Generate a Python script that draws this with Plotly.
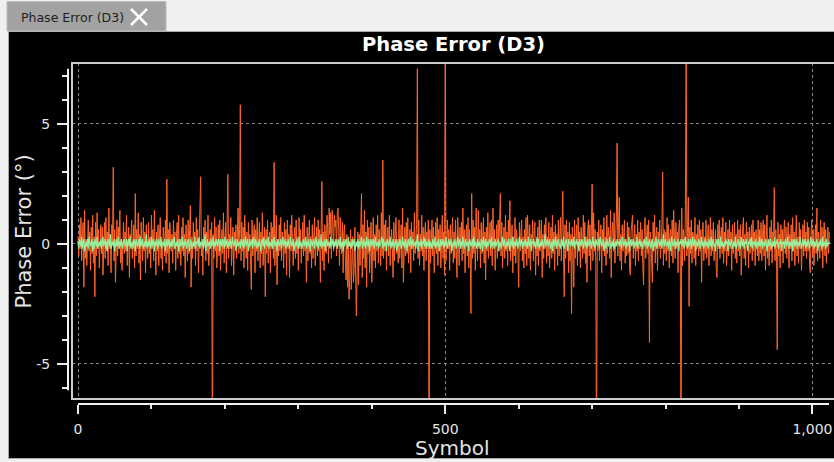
import plotly.graph_objects as go

W, H = 834, 462

# ---------------- data ----------------
symbols = list(range(1024))

phase_error_d3 = [
    0.3,-0.5,0.8,-0.2,1.1,-0.7,0.4,0.9,-1.8,1.4,-0.6,0.2,-0.9,0.6,1.0,-0.3,0.5,-1.1,0.7,-0.4,1.2,-0.8,0.3,-2.2,0.9,-0.5,1.3,-0.2,0.6,-1.0,0.4,0.8,
    -0.4,0.7,-1.3,0.2,0.9,-0.6,1.1,-0.3,0.5,-0.9,1.5,-0.2,0.4,-1.2,0.8,0.1,3.2,-0.7,0.6,-1.6,0.3,1.0,-0.5,0.7,-0.2,1.4,-0.8,0.2,-1.1,0.6,0.9,-0.4,
    0.5,-0.3,1.2,-0.9,0.2,0.7,-1.4,0.4,-0.1,1.0,-0.6,0.3,0.8,-1.0,2.1,-0.5,0.6,-0.2,1.3,-0.8,0.4,-1.5,0.9,0.1,-0.7,1.1,-0.3,0.5,-1.2,0.8,0.2,-0.6,
    0.9,-0.4,0.3,-1.0,1.2,-0.2,0.6,-0.7,1.4,0.2,-1.3,0.5,-0.3,0.8,-0.9,0.4,1.1,-0.6,0.2,-1.1,0.7,0.3,-0.5,1.0,-0.8,2.7,-0.4,0.6,-1.2,0.9,0.1,-0.3,
    0.4,-0.8,1.0,-0.2,0.5,-1.1,0.3,0.9,-0.6,1.2,-0.4,0.2,-0.9,0.7,-0.3,1.1,-0.5,0.4,-1.4,0.8,0.2,-0.7,1.0,-0.4,0.6,1.6,-1.8,0.3,-0.6,0.9,-0.2,0.5,
    -0.9,1.1,-0.3,0.6,-1.2,0.4,0.8,2.8,-0.5,0.2,-1.3,0.7,-0.1,1.0,-0.7,0.5,-0.4,1.2,-0.9,0.3,0.6,-0.2,0.9,-9.5,0.4,-0.6,1.1,-0.3,0.7,-1.0,0.2,0.8,
    -0.5,1.0,-1.1,0.3,0.6,-0.4,1.3,-0.8,0.2,0.9,-1.2,0.5,2.9,-0.6,0.4,-0.2,1.1,-0.9,0.3,0.7,-1.3,0.5,-0.1,0.8,-0.6,1.0,1.5,-0.4,0.6,5.8,-0.7,0.9,
    -0.3,0.7,-1.0,1.2,0.2,-0.6,0.5,-1.1,0.9,-0.2,0.4,-0.8,-1.9,1.0,-0.5,0.3,0.8,-1.2,0.6,-0.3,1.1,-0.7,0.2,0.9,-1.0,0.5,-0.4,1.3,-0.9,0.4,0.7,-2.2,
    0.6,-0.4,1.0,-0.8,0.3,0.5,-1.2,0.9,-0.2,0.7,-0.6,3.4,-0.9,0.4,1.2,-1.7,0.2,-0.5,0.8,-0.3,1.1,-0.7,0.5,0.2,-1.0,0.9,-0.4,0.6,-1.3,1.0,-0.2,0.4,
    -1.4,0.8,-0.3,1.2,0.5,-0.9,0.2,0.7,-0.6,1.0,-0.4,0.3,-1.1,1.1,-0.2,0.6,-0.8,0.4,0.9,-0.5,1.2,-0.3,0.2,-1.6,0.7,-0.7,0.5,1.0,-0.4,0.3,-1.0,0.8,
    -0.6,0.4,1.1,-0.9,0.2,0.7,-0.5,1.0,-0.3,0.6,-1.6,0.9,2.6,-0.7,0.5,-1.1,0.8,0.3,-0.4,1.2,0.6,-0.8,1.5,0.4,1.3,-0.6,1.4,0.9,-0.3,1.2,0.7,1.0,
    -0.5,1.3,1.5,0.6,-0.9,1.1,0.3,-0.4,0.9,-1.2,0.5,0.8,-0.7,-1.5,0.4,-1.8,0.2,-2.3,-1.4,0.6,-1.9,-0.8,0.3,-1.6,-1.1,0.7,-2.0,-3.0,-1.3,0.5,-1.7,0.4,
    -0.9,1.2,2.1,-1.4,0.8,-0.6,1.4,-1.0,0.5,-1.8,1.0,-0.4,0.7,-1.2,0.3,0.9,-1.6,0.5,1.1,-0.7,0.4,-1.0,0.8,-0.3,1.2,-0.8,0.6,0.2,-0.9,1.3,-0.5,3.5,
    -0.6,0.8,-0.3,1.0,-1.1,0.4,0.7,-0.5,1.2,-0.9,0.3,0.6,-0.2,-1.4,0.9,-0.7,0.5,1.1,-0.4,0.2,-0.8,1.0,-0.6,0.4,0.8,-1.0,1.5,-1.6,0.3,0.7,-0.5,0.9,
    -0.4,1.1,-0.8,0.3,0.6,-1.2,0.9,-0.2,0.5,-0.7,1.3,-0.4,0.2,0.8,7.3,-0.6,1.0,-0.9,0.4,-0.3,1.2,-0.5,0.7,-1.1,0.3,0.9,-0.7,0.5,-0.2,1.0,-9.5,0.6,
    -0.8,0.4,1.0,-0.5,0.7,-1.2,0.2,0.9,-0.4,1.1,-0.9,0.6,-0.3,0.8,-1.0,0.3,1.2,-0.6,0.5,-1.3,9.5,-0.7,0.4,1.0,-0.2,0.6,-1.1,0.8,-0.4,0.3,1.1,-0.8,
    0.5,-0.6,1.0,-0.3,-1.4,1.1,0.4,-0.9,0.7,-0.2,0.9,-0.7,1.5,-0.4,0.6,-1.2,0.3,0.8,-0.5,1.1,-1.0,0.6,-0.3,-2.9,2.1,-0.6,1.0,-0.4,0.7,-1.1,1.5,0.4,
    -0.7,1.4,-0.2,0.6,-1.0,0.9,-0.4,0.3,1.1,-0.8,0.5,-1.5,0.7,-0.3,1.3,-0.6,0.2,0.9,-0.5,1.0,-0.9,1.5,-0.2,0.6,-1.1,0.4,0.8,-0.6,1.0,-0.3,0.5,2.1,
    -0.5,0.9,-1.0,0.4,0.7,-0.6,1.2,-0.3,0.5,-0.9,1.0,-0.2,1.8,-0.7,0.4,0.8,-1.2,0.3,-0.5,1.1,-0.8,0.6,0.2,-0.4,-1.8,0.9,-0.3,0.5,1.0,-0.7,0.3,-1.0,
    0.6,-0.4,1.1,-0.9,1.2,0.3,-0.6,0.8,-1.1,0.4,-0.2,1.0,-0.7,0.5,0.9,-1.3,0.2,-0.5,0.7,-0.9,1.0,-0.3,0.6,1.0,-1.4,0.4,-0.6,0.8,-0.2,1.1,-0.8,0.3,
    -0.5,0.9,-1.0,0.3,0.7,-0.6,1.2,-0.4,0.5,-1.1,0.8,-0.2,0.4,-0.9,1.0,-0.5,0.6,1.1,-0.7,0.3,2.2,-0.4,-2.2,0.8,-0.6,1.0,-0.3,0.5,-1.2,0.9,-0.7,0.4,
    -2.9,0.7,-0.4,-1.8,1.0,-0.6,0.3,0.8,-0.9,1.1,-0.3,0.5,-1.0,0.7,0.2,-0.6,1.2,-0.4,0.9,-0.8,0.3,-1.6,0.6,1.0,-0.5,0.8,-1.1,0.4,2.5,-0.7,1.3,-0.3,
    0.6,-0.8,-9.5,0.5,-0.3,1.0,-0.7,0.4,0.8,-1.2,0.6,-0.2,1.1,-0.5,0.3,-0.9,1.2,-0.4,0.7,0.3,-0.6,1.4,-1.4,0.5,0.9,-0.3,1.3,-0.8,0.6,1.1,4.2,-0.5,
    0.9,1.95,-0.7,0.4,-1.1,0.8,-0.3,0.6,1.0,-0.8,0.2,-0.5,0.9,-0.4,0.7,-1.0,-1.3,0.5,1.0,1.2,-0.6,0.3,0.8,-0.9,0.4,-0.3,1.0,-0.7,0.5,-0.2,0.9,-0.5,
    0.6,-0.9,-1.7,0.4,1.1,-0.6,0.3,0.8,-0.4,1.0,-4.1,0.5,0.2,-0.7,-1.6,0.9,-0.3,1.2,-0.8,0.4,0.7,-1.1,0.5,-0.2,1.0,-0.6,0.3,0.8,3.0,-0.9,0.6,-0.4,
    0.5,-0.7,1.1,-0.3,0.8,-1.0,0.4,0.6,-0.5,1.0,-0.8,1.4,0.3,-0.6,0.9,-0.2,0.5,-1.2,0.7,1.0,-0.4,-9.5,1.5,-0.9,0.6,0.3,-0.7,1.6,9.5,-0.5,0.8,1.95,
    -2.6,0.7,-0.4,1.0,-0.8,0.5,0.3,-0.6,1.1,-0.9,0.4,-0.2,0.8,-0.5,1.0,-0.3,0.6,-1.6,0.4,0.9,-0.7,0.3,-0.4,1.0,-0.6,0.5,0.8,-0.9,0.2,1.1,-0.5,0.6,
    -0.3,0.9,-0.7,0.4,0.6,-1.0,-1.4,0.8,-0.2,1.0,-0.6,0.3,0.7,-0.4,1.1,-0.8,0.5,-0.3,0.9,-0.9,0.4,0.6,-0.5,1.0,-0.2,0.5,-1.1,0.8,-0.4,0.3,0.9,-0.6,
    0.4,-0.8,1.0,-0.3,0.6,-0.5,0.8,-1.3,0.2,0.7,1.1,-0.6,0.4,-0.9,0.9,-0.2,0.5,-1.0,0.7,-0.4,0.3,0.8,-0.7,1.0,-0.3,0.5,-0.9,0.6,0.2,-0.5,1.0,-0.7,
    0.6,-0.4,0.9,-0.7,0.3,1.0,-0.5,0.8,-1.1,0.4,1.2,-0.6,0.2,-0.9,0.7,-0.3,1.0,-0.8,0.5,0.3,2.35,-0.7,0.6,-0.2,-4.4,0.9,-0.5,0.4,-1.0,0.8,-0.3,0.6,
    -0.8,0.5,1.0,-0.4,0.7,-0.6,0.3,0.9,-1.0,0.4,-0.2,0.8,-0.7,1.1,-0.3,0.5,-0.9,0.6,1.2,-0.5,0.3,-0.8,0.9,-0.2,0.6,-1.1,0.4,0.8,-0.5,1.0,-0.3,0.5,
    -0.6,0.9,-0.3,0.7,-0.8,-1.2,0.4,1.0,-0.5,0.6,-0.9,0.3,0.8,-0.4,1.5,-0.7,0.5,0.2,-0.6,1.0,-0.3,0.7,-1.0,0.4,0.9,-0.5,0.6,-0.8,0.3,0.7,-0.4,0.5,
]

phase_error_avg = [
    0.1,-0.2,0.2,0.0,-0.1,0.3,-0.2,0.1,0.2,-0.3,0.0,0.1,-0.1,0.2,-0.2,0.3,0.1,-0.1,0.0,0.2,-0.3,0.1,-0.2,0.2,0.1,-0.1,0.3,-0.2,0.0,0.1,-0.1,0.2,
    -0.2,0.1,0.3,-0.1,0.0,0.2,-0.2,0.1,-0.3,0.2,0.1,-0.1,0.4,-0.2,0.0,0.1,-0.1,0.2,-0.3,0.1,0.2,-0.1,0.0,0.3,-0.2,0.1,-0.1,0.2,0.0,-0.2,0.1,0.2,
    0.0,-0.1,0.2,-0.3,0.1,0.2,-0.1,0.3,-0.2,0.0,0.1,-0.2,0.2,0.1,-0.3,0.2,0.1,-0.1,0.0,0.2,-0.2,0.3,-0.1,0.1,0.2,-0.2,0.0,0.1,-0.1,0.4,-0.2,0.1,
    -0.1,0.2,0.0,-0.2,0.3,-0.1,0.1,0.2,-0.3,0.1,-0.1,0.2,0.0,-0.2,0.2,0.1,-0.1,0.3,-0.2,0.0,0.1,-0.1,0.2,-0.3,0.1,0.2,-0.1,0.0,0.2,-0.2,0.1,-0.1,
    0.2,-0.1,0.1,0.3,-0.2,0.0,0.1,-0.1,0.2,-0.3,0.1,0.2,-0.1,0.0,0.3,-0.2,0.1,-0.1,0.2,0.0,-0.2,0.1,0.2,-0.1,-0.3,0.2,0.1,-0.2,0.0,0.1,-0.1,0.3,
    -0.2,0.1,0.0,0.2,-0.1,0.3,-0.2,0.1,0.0,-0.1,0.2,-0.2,0.1,0.4,-0.3,0.1,0.2,-0.1,0.0,0.1,-0.2,0.2,-0.1,0.0,0.3,-0.2,0.1,-0.1,0.2,0.0,-0.1,0.2,
    0.1,-0.3,0.2,0.0,-0.1,0.2,0.1,-0.2,0.3,-0.1,0.0,0.2,-0.2,0.1,-0.1,0.2,0.0,-0.2,0.3,0.1,-0.1,0.0,0.2,-0.3,0.1,0.2,-0.1,0.0,0.1,-0.2,0.2,0.1,
    -0.1,0.2,-0.2,0.1,0.3,-0.1,0.0,0.2,-0.3,0.1,0.2,-0.1,0.0,0.2,-0.2,0.3,0.1,-0.1,0.2,0.0,-0.2,0.1,-0.1,0.2,0.0,-0.3,0.1,0.2,-0.1,0.3,-0.2,0.0,
    0.2,0.0,-0.1,0.3,-0.2,0.1,0.0,-0.1,0.2,-0.2,0.1,0.3,-0.1,0.0,0.1,-0.3,0.2,0.1,-0.1,0.0,0.2,-0.2,0.1,0.3,-0.1,0.0,0.2,-0.2,0.1,-0.1,0.2,0.0,
    -0.2,0.3,0.1,-0.1,0.0,0.2,-0.3,0.1,0.1,-0.1,0.2,0.0,-0.2,0.3,-0.1,0.1,0.0,-0.2,0.1,0.2,-0.1,0.0,0.3,-0.2,0.1,-0.1,0.2,0.0,-0.3,0.2,0.1,-0.1,
    0.1,0.2,-0.2,0.0,0.3,-0.1,0.1,-0.2,0.2,0.0,-0.1,0.4,-0.2,0.1,0.0,-0.1,0.2,-0.3,0.1,0.2,-0.1,0.0,0.1,-0.2,0.3,-0.1,0.0,0.2,-0.2,0.1,-0.1,0.2,
    0.0,-0.2,0.2,0.1,-0.1,0.3,-0.2,0.0,0.1,-0.3,0.2,-0.1,0.1,0.2,0.0,-0.2,0.3,-0.1,0.1,0.0,-0.2,0.2,-0.1,0.1,0.2,-0.3,0.0,0.1,-0.1,0.2,-0.2,0.1,
    -0.1,0.1,0.3,-0.2,0.0,0.2,-0.1,0.1,-0.2,0.3,0.0,-0.1,0.2,-0.3,0.1,0.2,-0.1,0.0,0.2,-0.2,0.1,0.3,-0.1,0.0,0.1,-0.2,0.2,-0.1,0.0,0.1,0.3,-0.2,
    0.2,-0.1,0.0,0.1,-0.3,0.2,0.1,-0.1,0.0,0.3,-0.2,0.1,-0.1,0.2,0.0,-0.2,0.1,0.2,-0.3,0.0,0.1,-0.1,0.2,0.1,-0.2,0.0,0.3,-0.1,0.1,-0.2,0.2,0.0,
    -0.3,0.1,0.2,-0.1,0.0,0.3,-0.2,0.1,0.2,-0.1,0.0,0.1,-0.2,0.2,0.4,-0.3,0.1,0.0,-0.1,0.2,-0.2,0.1,0.0,0.3,-0.1,0.2,-0.2,0.1,0.0,-0.1,0.2,-0.2,
    0.1,0.0,-0.2,0.2,0.1,-0.1,0.3,-0.2,0.0,0.1,-0.1,0.2,-0.3,0.1,0.2,-0.1,0.0,0.2,-0.2,0.1,-0.1,0.3,0.0,-0.2,0.1,0.2,-0.1,0.0,0.2,-0.3,0.1,0.1,
    -0.1,0.2,0.0,-0.2,0.1,0.3,-0.1,0.0,0.2,-0.2,0.1,-0.1,0.3,0.0,-0.2,0.1,0.2,-0.1,0.0,0.1,-0.3,0.2,0.1,-0.1,0.0,0.2,-0.2,0.3,-0.1,0.1,0.0,-0.2,
    0.2,-0.1,0.1,0.0,-0.2,0.2,0.1,-0.3,0.3,0.0,-0.1,0.2,-0.2,0.1,-0.1,0.0,0.2,0.1,-0.2,0.3,-0.1,0.0,0.1,-0.2,0.2,-0.1,0.0,0.1,0.2,-0.3,0.1,0.0,
    -0.2,0.1,0.3,-0.1,0.0,0.2,-0.2,0.1,0.1,-0.1,0.2,0.0,-0.3,0.2,0.1,-0.1,0.3,-0.2,0.0,0.1,-0.1,0.2,0.0,-0.2,0.1,0.3,-0.1,0.0,0.2,-0.2,0.1,-0.1,
    0.0,0.2,-0.1,0.1,-0.2,0.3,0.0,-0.1,0.2,-0.3,0.1,0.0,0.2,-0.1,0.1,-0.2,0.0,0.3,-0.1,0.2,-0.2,0.0,0.1,-0.1,0.2,0.0,-0.2,0.1,0.4,-0.1,0.0,0.2,
    -0.1,0.1,0.2,-0.2,0.0,0.1,-0.3,0.2,0.1,-0.1,0.3,0.0,-0.2,0.1,0.2,-0.1,0.0,-0.2,0.2,0.1,-0.1,0.3,-0.2,0.0,0.1,0.2,-0.1,-0.3,0.2,0.0,0.1,-0.1,
    0.2,0.0,-0.1,0.3,-0.2,0.1,0.0,0.2,-0.1,0.1,-0.3,0.2,0.0,-0.1,0.2,0.1,-0.2,0.0,0.3,-0.1,0.1,-0.2,0.2,0.0,-0.1,0.2,0.1,-0.2,0.0,0.3,-0.1,0.1,
    -0.2,0.2,0.1,-0.1,0.0,0.2,-0.2,0.3,0.1,-0.1,0.0,0.2,-0.3,0.1,0.1,-0.2,0.2,0.0,-0.1,0.1,0.3,-0.2,0.0,0.1,-0.1,0.2,-0.2,0.0,0.1,-0.1,0.2,0.0,
    0.1,-0.1,0.2,0.0,-0.2,0.3,0.1,-0.1,0.0,0.2,-0.2,0.1,-0.1,0.0,0.3,-0.3,0.1,0.2,-0.1,0.0,0.2,-0.2,0.1,0.0,-0.1,0.3,-0.2,0.1,0.0,0.2,-0.1,0.1,
    0.0,-0.2,0.1,0.2,-0.1,0.0,0.3,-0.2,0.1,-0.1,0.2,0.0,-0.2,0.1,0.2,-0.3,0.0,0.1,-0.1,0.3,-0.2,0.0,0.2,0.1,-0.1,0.0,0.2,-0.2,0.1,0.4,-0.1,0.0,
    0.2,-0.1,0.0,0.1,-0.2,0.2,0.0,-0.3,0.3,0.1,-0.1,0.0,0.2,-0.2,0.1,0.0,-0.1,0.2,-0.3,0.1,0.0,0.2,-0.1,0.1,0.2,-0.2,0.0,0.3,-0.1,0.1,-0.2,0.2,
    -0.1,0.0,0.2,-0.2,0.1,0.3,-0.1,0.0,0.2,-0.3,0.1,0.0,-0.1,0.2,0.1,-0.2,0.0,0.3,-0.1,0.1,-0.2,0.0,0.2,-0.1,0.1,0.0,-0.2,0.2,0.1,-0.1,0.3,-0.2,
    0.1,0.2,-0.1,0.0,-0.3,0.2,0.1,-0.1,0.2,0.0,-0.2,0.3,-0.1,0.1,0.0,-0.2,0.1,-0.1,0.2,0.0,0.1,-0.3,0.2,0.0,-0.1,0.1,0.2,-0.2,0.0,0.1,-0.1,0.3,
    -0.2,0.0,0.1,0.2,-0.1,0.1,-0.2,0.3,0.0,-0.1,0.2,-0.2,0.1,0.0,0.2,-0.1,-0.3,0.1,0.0,0.2,-0.1,0.3,-0.2,0.1,0.0,0.1,-0.1,0.2,-0.2,0.0,0.1,-0.1,
    0.3,-0.1,0.0,0.2,-0.2,0.1,0.0,-0.1,0.2,0.1,-0.3,0.0,0.2,-0.1,0.1,0.2,-0.2,0.0,0.1,-0.1,0.3,-0.2,0.1,0.0,0.2,-0.1,-0.2,0.1,0.0,0.2,-0.3,0.1,
    0.0,0.1,-0.2,0.2,0.1,-0.1,0.3,0.0,-0.2,0.1,0.0,-0.1,0.2,-0.3,0.1,0.2,-0.1,0.0,0.2,-0.2,0.1,0.0,-0.1,0.3,0.1,-0.2,0.0,0.2,-0.1,0.1,0.2,-0.2,
    0.1,-0.1,0.2,0.0,-0.2,0.1,0.3,-0.1,0.0,0.2,-0.2,0.1,-0.1,0.0,0.2,-0.3,0.1,0.1,-0.1,0.2,0.0,-0.2,0.3,-0.1,0.0,0.1,-0.2,0.2,-0.1,0.0,0.1,0.0,
]

x_tick_vals = [0, 500, 1000]
x_tick_text = ["0", "500", "1,000"]
y_tick_vals = [-5, 0, 5]
y_tick_text = ["-5", "0", "5"]

assert len(phase_error_d3) == len(symbols), len(phase_error_d3)
assert len(phase_error_avg) == len(symbols), len(phase_error_avg)

# ---------------- layout helpers (pixel -> paper) ----------------
def fx(p):
    return p / W


def fy(p):
    return 1 - p / H


FONT = "DejaVu Sans, Noto Sans, sans-serif"
TICK_C = "#e8e8e8"
TEXT_C = "#e4e4e4"

fig = go.Figure()
fig.add_trace(go.Scatter(
    x=symbols, y=phase_error_d3, mode="lines",
    line=dict(color="#ff6428", width=1), hoverinfo="skip",
))
fig.add_trace(go.Scatter(
    x=symbols, y=phase_error_avg, mode="lines",
    line=dict(color="#98f09c", width=1.2), hoverinfo="skip",
))

fig.update_layout(
    width=W, height=H, autosize=False,
    margin=dict(l=0, r=0, t=0, b=0, pad=0),
    paper_bgcolor="#f0f0f0", plot_bgcolor="#000000",
    showlegend=False,
    font=dict(family=FONT, color=TEXT_C),
    xaxis=dict(
        domain=[fx(72), 1.0], range=[-8.17, 1029.3],
        anchor="free", position=fy(404), side="bottom",
        tickmode="array", tickvals=x_tick_vals, ticktext=x_tick_text,
        ticks="outside", ticklen=9, tickwidth=2, tickcolor=TICK_C,
        tickfont=dict(family=FONT, size=14, color=TEXT_C), ticklabelstandoff=3,
        showgrid=True, gridcolor="#8a8a8a", griddash="dot", gridwidth=1,
        zeroline=False, showline=False, fixedrange=True,
        minor=dict(tickmode="linear", tick0=0, dtick=100, ticks="outside",
                   ticklen=4, tickwidth=2, tickcolor=TICK_C, showgrid=False),
    ),
    yaxis=dict(
        domain=[fy(399), fy(63)], range=[-6.46, 7.54],
        anchor="free", position=fx(67), side="left",
        tickmode="array", tickvals=y_tick_vals, ticktext=y_tick_text,
        ticks="outside", ticklen=10, tickwidth=2, tickcolor=TICK_C,
        tickfont=dict(family=FONT, size=14, color=TEXT_C), ticklabelstandoff=4,
        showgrid=True, gridcolor="#8a8a8a", griddash="dot", gridwidth=1,
        zeroline=False, showline=False, fixedrange=True,
        minor=dict(tickmode="linear", tick0=0, dtick=1, ticks="outside",
                   ticklen=5, tickwidth=2, tickcolor=TICK_C, showgrid=False),
    ),
)

shapes = [
    # black panel
    dict(type="rect", xref="paper", yref="paper", layer="below",
         x0=fx(8.5), x1=1.02, y0=fy(458.5), y1=fy(31.5),
         fillcolor="#000000", line=dict(color="#a8a8a8", width=1)),
    # tab
    dict(type="rect", xref="paper", yref="paper", layer="below",
         x0=fx(7), x1=fx(166), y0=fy(31), y1=fy(1.5),
         fillcolor="#a2a2a2", line=dict(color="#bcbcbc", width=1)),
    # close X on tab
    dict(type="line", xref="paper", yref="paper", layer="above",
         x0=fx(131), x1=fx(147), y0=fy(9), y1=fy(25),
         line=dict(color="#ffffff", width=2.5)),
    dict(type="line", xref="paper", yref="paper", layer="above",
         x0=fx(131), x1=fx(147), y0=fy(25), y1=fy(9),
         line=dict(color="#ffffff", width=2.5)),
    # plot frame (top, left, bottom)
    dict(type="line", xref="paper", yref="paper", layer="above",
         x0=fx(71), x1=1.02, y0=fy(63), y1=fy(63),
         line=dict(color="#cccccc", width=2)),
    dict(type="line", xref="paper", yref="paper", layer="above",
         x0=fx(72), x1=fx(72), y0=fy(62), y1=fy(400),
         line=dict(color="#cccccc", width=2)),
    dict(type="line", xref="paper", yref="paper", layer="above",
         x0=fx(71), x1=1.02, y0=fy(399), y1=fy(399),
         line=dict(color="#cccccc", width=2)),
    # detached y axis line
    dict(type="line", xref="paper", yref="y", layer="above",
         x0=fx(68), x1=fx(68), y0=-6.1, y1=7.3,
         line=dict(color="#f2f2f2", width=2)),
    # detached x axis line
    dict(type="line", xref="x", yref="paper", layer="above",
         x0=0, x1=1022.5, y0=fy(404), y1=fy(404),
         line=dict(color="#f2f2f2", width=2)),
]
fig.update_layout(shapes=shapes)

annotations = [
    dict(text="Phase Error (D3)", x=fx(72.5), y=fy(17), xref="paper", yref="paper",
         showarrow=False, xanchor="center", yanchor="middle",
         font=dict(family=FONT, size=12.5, color="#1e1e1e")),
    dict(text="<b>Phase Error (D3)</b>", x=fx(454), y=fy(44), xref="paper", yref="paper",
         showarrow=False, xanchor="center", yanchor="middle",
         font=dict(family=FONT, size=19.5, color="#ffffff")),
    dict(text="Symbol", x=fx(453), y=fy(448), xref="paper", yref="paper",
         showarrow=False, xanchor="center", yanchor="middle",
         font=dict(family=FONT, size=20, color=TEXT_C)),
    dict(text="Phase Error (°)", x=fx(23), y=fy(231.5), xref="paper", yref="paper",
         showarrow=False, xanchor="center", yanchor="middle", textangle=-90,
         font=dict(family=FONT, size=21, color=TEXT_C)),
]
fig.update_layout(annotations=annotations)

fig.write_html("out.html", config={"displayModeBar": False, "staticPlot": True})
